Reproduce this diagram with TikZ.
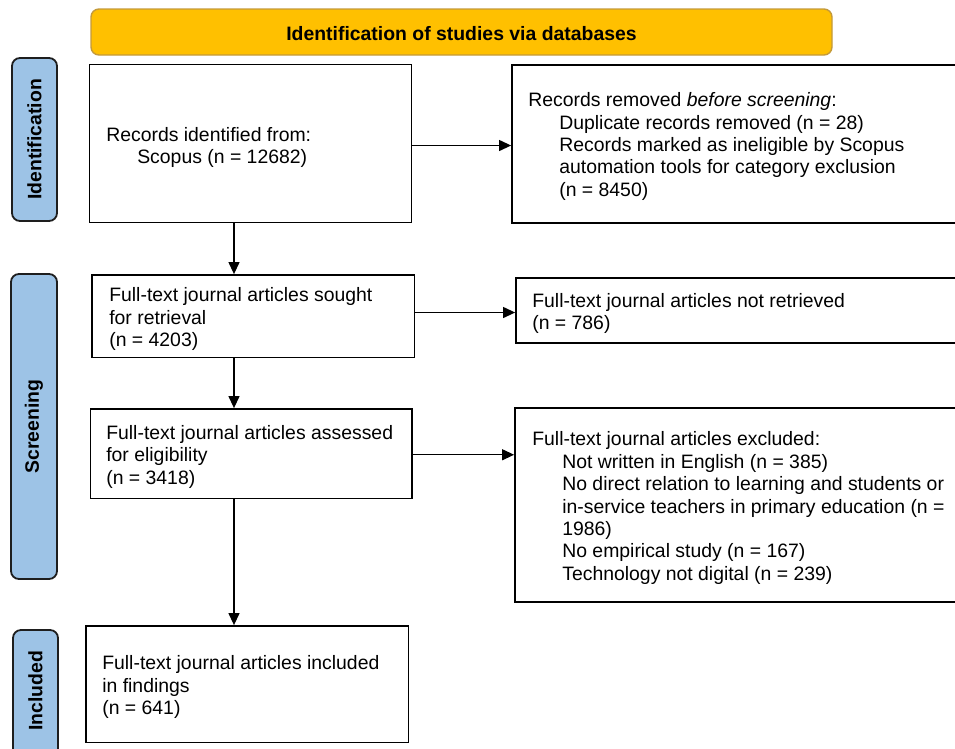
\documentclass[tikz,border=0pt]{standalone}
\usepackage{fontspec}
\setmainfont{Liberation Sans}
\usetikzlibrary{arrows.meta,calc}
\definecolor{hdrfill}{HTML}{FFC000}
\definecolor{hdrline}{HTML}{C49A3A}
\definecolor{sidefill}{HTML}{9DC3E6}
\definecolor{sideline}{HTML}{1E1E1E}
\newcommand{\ind}{\hspace*{31pt}}
\begin{document}
\begin{tikzpicture}[x=1pt,y=-1pt,
 box/.style={draw=black,line width=1.8pt,fill=white,inner sep=0pt,rectangle},
 txt/.style={align=left,inner sep=0pt,anchor=west,font=\fontsize{19.4}{22.4}\selectfont},
 hdr/.style={draw=hdrline,fill=hdrfill,line width=1.4pt,rounded corners=8pt,inner sep=0pt,font=\fontsize{19.4}{22.4}\selectfont\bfseries},
 side/.style={draw=sideline,fill=sidefill,line width=1.8pt,rounded corners=8pt,inner sep=0pt},
 sidetxt/.style={rotate=90,inner sep=0pt,font=\fontsize{19.4}{22.4}\selectfont\bfseries},
 arr/.style={line width=1.2pt,-{Triangle[length=12pt,width=11pt]}}]
\useasboundingbox (0,0) rectangle (955,748);
\clip (0,0) rectangle (955,748);

% header
\node[hdr,minimum width=741pt,minimum height=46pt] (hdr) at (461.5,32) {};
\node[inner sep=0pt,font=\fontsize{19.4}{22.4}\selectfont\bfseries] (hdrt) at ([yshift=-2pt]hdr.center) {Identification of studies via databases};

% side labels
\node[side,minimum width=45pt,minimum height=163pt] (sid) at (34.5,139.5) {};
\node[sidetxt] (sidt) at (sid.center) {Identification};
\node[side,minimum width=46pt,minimum height=305pt] (sscr) at (34,426.5) {};
\node[sidetxt] (sscrt) at (sscr.center) {Screening};
\node[side,minimum width=45pt,minimum height=140pt] (sinc) at (35.5,700) {};
\node[sidetxt] (sinct) at (35.5,691) {Included};

% boxes
\node[box,minimum width=322pt,minimum height=158pt] (b1) at (250.5,143.5) {};
\node[box,minimum width=478pt,minimum height=158pt] (b2) at (751,144) {};
\node[box,minimum width=322.5pt,minimum height=82.5pt] (b3) at (253.25,316.25) {};
\node[box,minimum width=474pt,minimum height=65pt] (b4) at (753,310.5) {};
\node[box,minimum width=321.5pt,minimum height=89.5pt] (b5) at (251.25,453.75) {};
\node[box,minimum width=475pt,minimum height=194pt] (b6) at (752.5,505) {};
\node[box,minimum width=322.5pt,minimum height=116.5pt] (b7) at (247.25,684.25) {};

% texts
\node[txt] (t1) at ([xshift=17.5pt,yshift=-4pt]b1.west) {Records identified from:\\\ind Scopus (n = 12682)};
\node[txt] (t2) at ([xshift=17pt,yshift=-2.5pt]b2.west) {Records removed \textit{before screening}:\\\ind Duplicate records removed (n = 28)\\\ind Records marked as ineligible by Scopus\\\ind automation tools for category exclusion\\\ind (n = 8450)};
\node[txt] (t3) at ([xshift=18pt,yshift=-3pt]b3.west) {Full-text journal articles sought\\for retrieval\\(n = 4203)};
\node[txt] (t4) at ([xshift=17pt,yshift=-3pt]b4.west) {Full-text journal articles not retrieved\\(n = 786)};
\node[txt] (t5) at ([xshift=16.5pt,yshift=-3pt]b5.west) {Full-text journal articles assessed\\for eligibility\\(n = 3418)};
\node[txt] (t6) at ([xshift=18pt,yshift=-3pt]b6.west) {Full-text journal articles excluded:\\\hspace*{30pt}Not written in English (n = 385)\\\hspace*{30pt}No direct relation to learning and students or\\\hspace*{30pt}in-service teachers in primary education (n =\\\hspace*{30pt}1986)\\\hspace*{30pt}No empirical study (n = 167)\\\hspace*{30pt}Technology not digital (n = 239)};
\node[txt] (t7) at ([xshift=17pt,yshift=-3pt]b7.west) {Full-text journal articles included\\in findings\\(n = 641)};

% connectors
\coordinate (spine) at (234,0);
\draw[arr] (b1.south -| spine) -- (b3.north -| spine);
\draw[arr] (b3.south -| spine) -- (b5.north -| spine);
\draw[arr] (b5.south -| spine) -- (b7.north -| spine);
\draw[arr] ([yshift=-2pt]b1.east) -- ([yshift=-2pt]b1.east -| b2.west);
\draw[arr] ([yshift=-2pt]b3.east |- b4.west) -- ([yshift=-2pt]b4.west);
\draw[arr] ([yshift=-1pt]b5.east) -- ([yshift=-1pt]b5.east -| b6.west);
\end{tikzpicture}
\end{document}
